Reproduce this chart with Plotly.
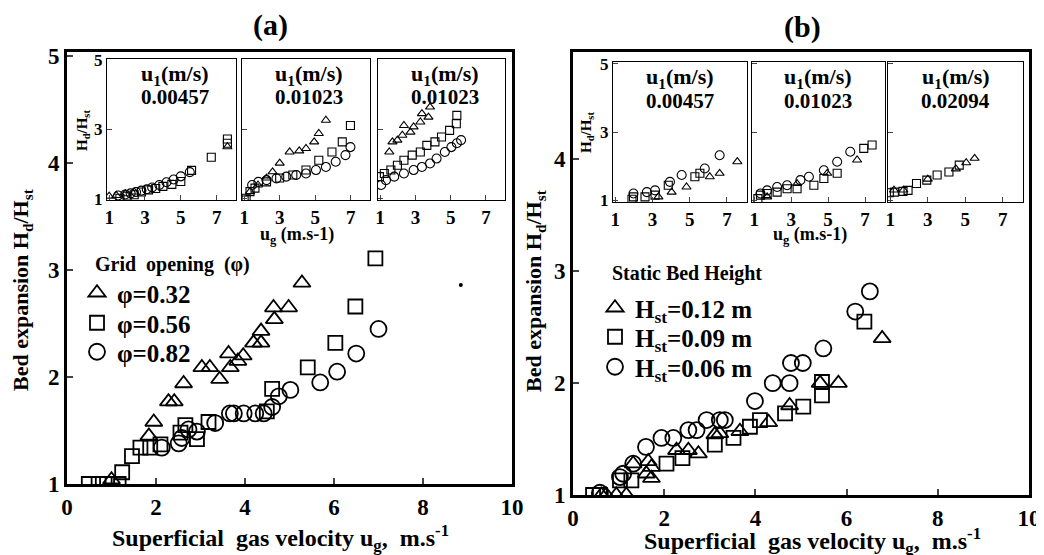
import plotly.graph_objects as go

W, H = 1044, 555
FONT = "Liberation Serif"
# the page body adds an 8px offset; positions below are given in reference-screen pixels
OX, OY = 8, 8

# ---------------- main panel (a): grid opening ----------------
a_tri_x = [5.28, 4.64, 4.98, 4.66, 4.36, 4.36, 4.19, 3.96, 3.84, 3.63, 3.67, 3.43, 3.21, 3.03, 2.62, 2.28, 2.41, 1.95, 1.84, 1.00]
a_tri_y = [2.88, 2.65, 2.65, 2.54, 2.43, 2.32, 2.32, 2.20, 2.15, 2.22, 2.09, 1.98, 2.09, 2.09, 1.94, 1.77, 1.77, 1.58, 1.45, 1.04]
a_sq_x = [6.93, 6.48, 6.03, 5.41, 4.61, 4.49, 3.18, 2.92, 2.66, 2.55, 2.10, 1.87, 1.65, 1.46, 1.24, 1.16, 0.90, 0.71, 0.49]
a_sq_y = [3.11, 2.66, 2.32, 2.09, 1.89, 1.68, 1.58, 1.42, 1.55, 1.48, 1.37, 1.34, 1.34, 1.26, 1.11, 1.00, 1.00, 1.00, 1.00]
a_ci_x = [7.00, 6.50, 6.07, 5.69, 5.02, 4.76, 4.61, 4.42, 4.23, 3.97, 3.75, 3.66, 3.33, 2.92, 2.73, 2.58, 2.51, 2.13]
a_ci_y = [2.45, 2.22, 2.05, 1.95, 1.88, 1.82, 1.72, 1.66, 1.66, 1.66, 1.66, 1.66, 1.57, 1.49, 1.51, 1.43, 1.38, 1.34]
a_dot_x = [8.85]
a_dot_y = [2.86]
a_names = ["φ=0.32", "φ=0.56", "φ=0.82"]

# ---------------- main panel (b): static bed height ----------------
b_tri_x = [6.78, 5.82, 5.42, 4.75, 4.29, 3.66, 3.22, 3.11, 2.75, 2.53, 2.27, 1.72, 1.65, 1.72, 1.61, 1.32, 1.17, 0.95, 0.73, 0.62]
b_tri_y = [2.40, 2.00, 2.00, 1.80, 1.65, 1.57, 1.55, 1.54, 1.37, 1.40, 1.40, 1.25, 1.30, 1.15, 1.19, 1.28, 1.00, 1.00, 1.00, 1.00]
b_sq_x = [6.39, 5.46, 5.46, 5.05, 4.65, 4.10, 3.88, 3.52, 3.11, 2.40, 2.05, 1.28, 1.03, 0.59, 0.44]
b_sq_y = [2.55, 2.01, 1.89, 1.79, 1.73, 1.67, 1.61, 1.51, 1.45, 1.33, 1.28, 1.13, 1.13, 1.00, 1.00]
b_ci_x = [6.51, 6.19, 5.49, 5.04, 4.78, 4.75, 4.38, 3.99, 3.33, 3.22, 2.93, 2.71, 2.53, 2.20, 1.94, 1.60, 1.32, 1.10, 1.03, 0.59]
b_ci_y = [2.82, 2.64, 2.31, 2.18, 2.18, 2.00, 2.00, 1.84, 1.67, 1.67, 1.67, 1.58, 1.58, 1.51, 1.51, 1.43, 1.28, 1.19, 1.16, 1.02]
b_names = ["H<sub>st</sub>=0.12 m", "H<sub>st</sub>=0.09 m", "H<sub>st</sub>=0.06 m"]

# ---------------- insets of (a) ----------------
a1_tri_x = [1.0, 1.4, 1.9, 2.4, 7.6]
a1_tri_y = [1.08, 1.10, 1.15, 1.20, 2.50]
a1_sq_x = [1.6, 2.0, 2.4, 2.8, 3.2, 3.6, 4.0, 4.5, 5.0, 5.6, 6.7, 7.6, 7.6]
a1_sq_y = [1.02, 1.08, 1.12, 1.20, 1.26, 1.30, 1.36, 1.42, 1.50, 1.82, 2.20, 2.60, 2.72]
a1_ci_x = [1.5, 1.9, 2.2, 2.5, 2.8, 3.1, 3.4, 3.8, 4.2, 4.6, 5.0, 5.5]
a1_ci_y = [1.10, 1.13, 1.16, 1.20, 1.24, 1.28, 1.33, 1.40, 1.48, 1.56, 1.65, 1.77]

a2_tri_x = [5.6, 5.2, 4.94, 4.48, 4.1, 3.56, 3.0, 2.6, 2.26, 1.78, 1.33]
a2_tri_y = [3.26, 2.88, 2.64, 2.45, 2.38, 2.35, 2.03, 1.78, 1.60, 1.40, 1.21]
a2_sq_x = [6.98, 6.52, 5.94, 5.2, 4.48, 3.74, 3.0, 2.26, 1.61, 1.33, 1.11, 1.0]
a2_sq_y = [3.11, 2.64, 2.35, 2.11, 1.83, 1.69, 1.60, 1.49, 1.31, 1.21, 1.02, 0.97]
a2_ci_x = [6.98, 6.7, 6.15, 5.6, 5.04, 4.48, 3.93, 3.37, 2.82, 2.26, 1.8, 1.45]
a2_ci_y = [2.49, 2.26, 2.07, 1.92, 1.83, 1.73, 1.69, 1.64, 1.59, 1.54, 1.49, 1.40]

a3_tri_x = [3.83, 3.74, 3.37, 3.28, 2.9, 2.72, 2.35, 2.26, 1.98, 1.7, 1.52]
a3_tri_y = [3.64, 3.35, 3.45, 3.21, 3.07, 2.92, 3.11, 2.83, 2.69, 2.64, 2.35]
a3_sq_x = [5.35, 5.32, 4.94, 4.48, 4.11, 3.65, 3.28, 2.82, 2.35, 1.98, 1.61, 1.24, 0.96]
a3_sq_y = [3.40, 3.16, 2.97, 2.78, 2.64, 2.54, 2.35, 2.26, 2.11, 1.97, 1.83, 1.73, 1.64]
a3_ci_x = [5.59, 5.35, 5.04, 4.67, 4.2, 3.83, 3.37, 2.9, 2.35, 1.8, 1.33, 1.06]
a3_ci_y = [2.69, 2.60, 2.49, 2.35, 2.16, 2.02, 1.92, 1.83, 1.73, 1.64, 1.54, 1.40]

# ---------------- insets of (b) ----------------
b1_tri_x = [7.56, 6.61, 6.08, 4.83, 4.03, 3.32]
b1_tri_y = [2.13, 1.79, 1.69, 1.39, 1.24, 1.10]
b1_sq_x = [5.55, 5.28, 3.85, 3.14, 2.6, 1.98, 1.9]
b1_sq_y = [1.79, 1.69, 1.44, 1.15, 1.10, 1.10, 1.03]
b1_ci_x = [6.61, 5.81, 4.57, 3.94, 3.14, 2.7, 1.98]
b1_ci_y = [2.32, 1.93, 1.74, 1.54, 1.29, 1.24, 1.20]

b2_tri_x = [6.57, 4.95, 3.32, 1.7]
b2_tri_y = [2.18, 1.79, 1.49, 1.10]
b2_sq_x = [7.38, 6.93, 5.49, 4.77, 4.23, 3.32, 2.78, 2.24, 1.7, 1.34, 1.2]
b2_sq_y = [2.62, 2.52, 1.79, 1.64, 1.44, 1.34, 1.34, 1.24, 1.20, 1.15, 1.05]
b2_ci_x = [6.2, 5.49, 4.77, 3.96, 3.5, 2.78, 2.24, 1.7, 1.34]
b2_ci_y = [2.42, 2.13, 1.88, 1.69, 1.59, 1.44, 1.39, 1.29, 1.20]

b3_tri_x = [5.5, 5.05, 4.5, 3.0, 1.7, 1.2]
b3_tri_y = [2.23, 2.10, 1.92, 1.62, 1.30, 1.30]
b3_sq_x = [4.68, 4.13, 3.5, 2.95, 2.4, 1.95, 1.68, 1.22, 0.95]
b3_sq_y = [2.03, 1.83, 1.74, 1.59, 1.49, 1.29, 1.26, 1.24, 1.22]

inset_values_a = ["0.00457", "0.01023", "0.01023"]
inset_values_b = ["0.00457", "0.01023", "0.02094"]
main_xticks = [0, 2, 4, 6, 8, 10]
main_yticks = [1, 2, 3, 4, 5]
inset_xticks = [1, 3, 5, 7]
inset_yticks = [1, 3, 5]


def px_x(p):
    return (p - OX) / W


def px_y(p):
    return 1 - (p - OY) / H


fig = go.Figure()

SYM = ["triangle-up-open", "square-open", "circle-open"]
MSIZE = [15, 14, 16]


def add_main(xs, ys, ax, names, legends):
    for i, (x, y) in enumerate(zip(xs, ys)):
        fig.add_trace(go.Scatter(
            x=x, y=y, mode="markers", name=names[i], xaxis="x" + ax, yaxis="y" + ax,
            legend=legends[i], showlegend=True,
            marker=dict(symbol=SYM[i], size=MSIZE[i], color="black",
                        line=dict(width=1.8, color="black"))))


def add_inset(xs, ys, syms, ax):
    for x, y, s in zip(xs, ys, syms):
        fig.add_trace(go.Scatter(
            x=x, y=y, mode="markers", xaxis="x" + ax, yaxis="y" + ax, showlegend=False,
            marker=dict(symbol=SYM[s], size=8 if s != 2 else 9, color="black",
                        line=dict(width=1.1, color="black"))))


add_main([a_tri_x, a_sq_x, a_ci_x], [a_tri_y, a_sq_y, a_ci_y], "", a_names, ["legend", "legend2", "legend3"])
fig.add_trace(go.Scatter(x=a_dot_x, y=a_dot_y, mode="markers", showlegend=False,
                         marker=dict(size=4, color="black")))
add_main([b_tri_x, b_sq_x, b_ci_x], [b_tri_y, b_sq_y, b_ci_y], "2", b_names, ["legend4", "legend5", "legend6"])

add_inset([a1_tri_x, a1_sq_x, a1_ci_x], [a1_tri_y, a1_sq_y, a1_ci_y], [0, 1, 2], "3")
add_inset([a2_tri_x, a2_sq_x, a2_ci_x], [a2_tri_y, a2_sq_y, a2_ci_y], [0, 1, 2], "4")
add_inset([a3_tri_x, a3_sq_x, a3_ci_x], [a3_tri_y, a3_sq_y, a3_ci_y], [0, 1, 2], "5")
add_inset([b1_tri_x, b1_sq_x, b1_ci_x], [b1_tri_y, b1_sq_y, b1_ci_y], [0, 1, 2], "6")
add_inset([b2_tri_x, b2_sq_x, b2_ci_x], [b2_tri_y, b2_sq_y, b2_ci_y], [0, 1, 2], "7")
add_inset([b3_tri_x, b3_sq_x], [b3_tri_y, b3_sq_y], [0, 1], "8")

bold = dict(family=FONT, color="black", weight="bold")


def main_axes(xd, yd, yr):
    xa = dict(domain=xd, range=[0, 10], tickvals=main_xticks, ticks="inside", ticklen=6, tickwidth=2,
              showline=True, linewidth=3, linecolor="black", mirror=True, showgrid=False, zeroline=False,
              automargin=False, tickfont=dict(size=23, **bold))
    ya = dict(domain=yd, range=yr, tickvals=main_yticks, ticks="inside", ticklen=6, tickwidth=2,
              showline=True, linewidth=3, linecolor="black", mirror=True, showgrid=False, zeroline=False,
              automargin=False, tickfont=dict(size=23, **bold))
    return xa, ya


def inset_axes(xd, yd, yr, anchor_x, anchor_y, show_y):
    xa = dict(domain=xd, range=[0.88, 8.08], tickvals=inset_xticks, ticks="inside", ticklen=5, tickwidth=1.3,
              showline=True, linewidth=1.3, linecolor="black", mirror=True, showgrid=False, zeroline=False,
              anchor=anchor_y, automargin=False, tickfont=dict(size=19, **bold))
    ya = dict(domain=yd, range=yr, tickvals=inset_yticks, ticks="inside", ticklen=5, tickwidth=1.3,
              showline=True, linewidth=1.3, linecolor="black", mirror=True, showgrid=False, zeroline=False,
              anchor=anchor_x, automargin=False, showticklabels=show_y, tickfont=dict(size=17, **bold))
    return xa, ya


layout = {}
xa, ya = main_axes([px_x(67), px_x(512)], [px_y(484), px_y(52)], [1, 5.04])
xa["anchor"] = "y"; ya["anchor"] = "x"
layout["xaxis"], layout["yaxis"] = xa, ya
xa, ya = main_axes([px_x(573), px_x(1029)], [px_y(495), px_y(52)], [1, 4.96])
xa["anchor"] = "y2"; ya["anchor"] = "x2"
layout["xaxis2"], layout["yaxis2"] = xa, ya

inset_a = [(107, 236), (242, 370), (378, 505)]
inset_b = [(613, 747), (752, 885), (888, 1023)]
for k, (l, r) in enumerate(inset_a):
    n = str(3 + k)
    xa, ya = inset_axes([px_x(l), px_x(r)], [px_y(200), px_y(59)], [0.97, 5.02], "x" + n, "y" + n, k == 0)
    layout["xaxis" + n], layout["yaxis" + n] = xa, ya
for k, (l, r) in enumerate(inset_b):
    n = str(6 + k)
    xa, ya = inset_axes([px_x(l), px_x(r)], [px_y(202), px_y(62)], [0.95, 5.05], "x" + n, "y" + n, k == 0)
    layout["xaxis" + n], layout["yaxis" + n] = xa, ya

ann = []


def text(x, y, s, size, angle=0, anchor="center"):
    ann.append(dict(x=px_x(x), y=px_y(y), xref="paper", yref="paper", text=s, showarrow=False,
                    textangle=angle, xanchor=anchor, yanchor="middle", font=dict(size=size, **bold)))


text(270, 25, "(a)", 30)
text(802, 27, "(b)", 30)
text(22, 290, "Bed expansion H<sub>d</sub>/H<sub>st</sub>", 22, -90)
text(535, 291, "Bed expansion H<sub>d</sub>/H<sub>st</sub>", 22, -90)
text(280, 538, "Superficial  gas velocity u<sub>g</sub>,  m.s<sup>-1</sup>", 24)
text(812, 541, "Superficial  gas velocity u<sub>g</sub>,  m.s<sup>-1</sup>", 24)
text(83, 131, "H<sub>d</sub>/H<sub>st</sub>", 15, -90)
text(587, 133, "H<sub>d</sub>/H<sub>st</sub>", 15, -90)
text(297, 235, "u<sub>g</sub> (m.s-1)", 18)
text(810, 235, "u<sub>g</sub> (m.s-1)", 18)
text(93, 265, "Grid  opening  (φ)", 20, anchor="left")
text(610, 273, "Static Bed Height", 20, anchor="left")
for (l, r), v in zip(inset_a, inset_values_a):
    c = (l + r) / 2 + 3
    text(c, 75, "u<sub>1</sub>(m/s)", 22)
    text(c, 97, v, 21)
for (l, r), v in zip(inset_b, inset_values_b):
    c = (l + r) / 2
    text(c, 78, "u<sub>1</sub>(m/s)", 22)
    text(c, 101, v, 21)


def leg(x, y):
    return dict(x=px_x(x), y=px_y(y), xanchor="left", yanchor="middle", bgcolor="rgba(0,0,0,0)",
                font=dict(size=25, **bold), itemwidth=30)


fig.update_layout(
    width=W, height=H, margin=dict(l=0, r=0, t=0, b=0, autoexpand=False),
    paper_bgcolor="white", plot_bgcolor="white",
    font=dict(family=FONT, color="black"),
    annotations=ann,
    legend=leg(77, 293), legend2=leg(77, 323), legend3=leg(77, 352),
    legend4=leg(595, 308), legend5=leg(595, 337), legend6=leg(595, 367),
    **layout,
)

fig.write_html("out.html")
